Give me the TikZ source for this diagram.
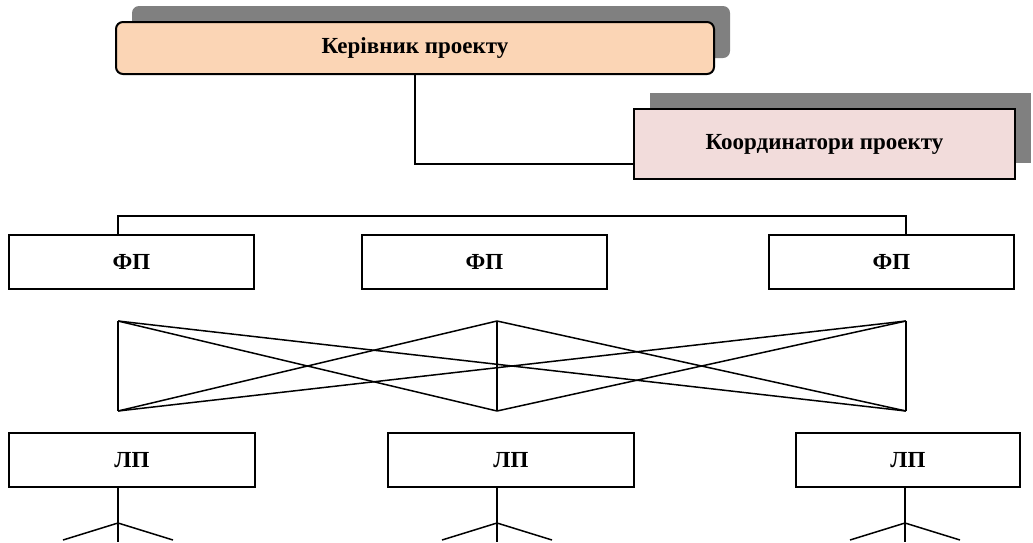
\documentclass[tikz,border=0pt]{standalone}
\usepackage{fontspec}
\setmainfont{Liberation Serif}
\usetikzlibrary{shadows, calc}

\definecolor{peach}{HTML}{FBD5B5}
\definecolor{rosy}{HTML}{F2DCDB}
\definecolor{shadowgray}{HTML}{808080}

\tikzset{
    headbox/.style={draw, line width=2pt, minimum height=52pt, align=center,
        font=\fontsize{23}{26}\selectfont\bfseries,
        general shadow={fill=shadowgray, shadow xshift=16pt, shadow yshift=16pt}},
    unitbox/.style={draw, line width=1.6pt, minimum width=245pt, minimum height=54pt,
        font=\fontsize{23}{26}\selectfont\bfseries},
    link/.style={line width=1.5pt}
}

\begin{document}
\begin{tikzpicture}[x=1pt, y=-1pt]
    \useasboundingbox (0,0) rectangle (1033,542);

    % Top management
    \node[headbox, fill=peach, rounded corners=7pt, minimum width=598pt] (ker) at (415,48) {Керівник проекту};
    \node[headbox, fill=rosy, line width=2.5pt, minimum width=381pt, minimum height=70pt] (coord) at (824.5,144) {Координатори проекту};
    \draw[link] (ker.south) |- ([yshift=-20pt]coord.west);

    % Functional units
    \node[unitbox] (fp1) at (131.5,262) {ФП};
    \node[unitbox] (fp2) at (484.5,262) {ФП};
    \node[unitbox] (fp3) at (891.5,262) {ФП};

    % Corner points of the cross links
    \coordinate (a1) at (118,321);
    \coordinate (a2) at (497,321);
    \coordinate (a3) at (906,321);
    \coordinate (b1) at (118,411);
    \coordinate (b2) at (497,411);
    \coordinate (b3) at (906,411);

    \draw[link] (fp1.north -| a1) -- ++(0,-18) -| (fp3.north -| a3);

    % Everybody linked with everybody
    \foreach \i in {1,2,3}
        \draw[link] (a\i) -- (b\i);
    \foreach \p/\q in {a1/b2, b1/a2, a2/b3, b2/a3, a1/b3, b1/a3}
        \draw[link] (\p) -- (\q);

    % Line units
    \node[unitbox, minimum width=246pt] (lp1) at (132,460) {ЛП};
    \node[unitbox, minimum width=246pt] (lp2) at (511,460) {ЛП};
    \node[unitbox, minimum width=224pt] (lp3) at (908,460) {ЛП};

    % Branches below each line unit
    \foreach \n/\x in {1/118, 2/497, 3/905} {
        \coordinate (s\n) at (\x,523);
        \draw[link] (lp\n.south -| s\n) -- (s\n) -- ++(0,19);
        \draw[link] (s\n) -- ++(-55,17);
        \draw[link] (s\n) -- ++(55,17);
    }
\end{tikzpicture}
\end{document}
